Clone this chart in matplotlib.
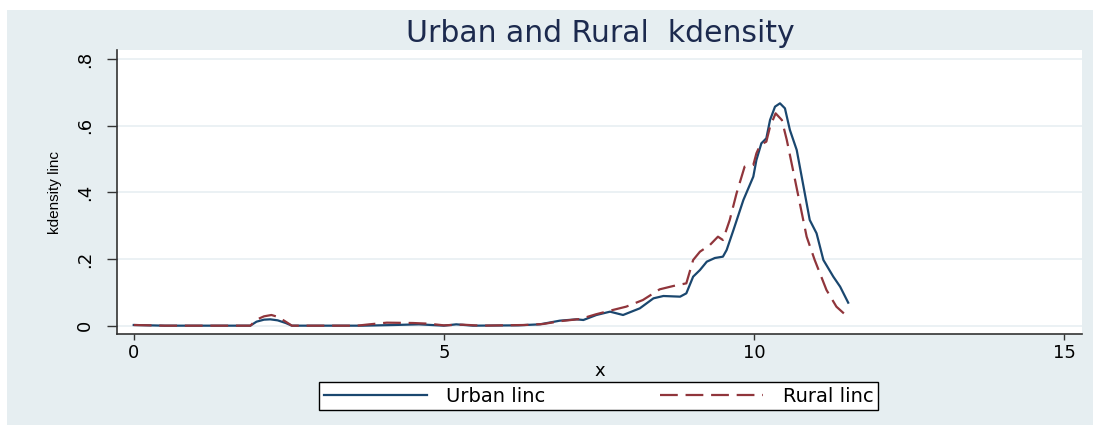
import matplotlib.pyplot as plt
from matplotlib.patches import Rectangle

# kdensity curves
urban_x = [0.0, 0.5, 1.88, 1.98, 2.1, 2.2, 2.32, 2.45, 2.55, 3.7, 4.2, 4.6, 5.0, 5.2, 5.47,
           6.2, 6.55, 6.87, 7.14, 7.25, 7.46, 7.68, 7.89, 8.16, 8.38, 8.54, 8.81, 8.91, 9.02,
           9.13, 9.24, 9.37, 9.5, 9.56, 9.67, 9.83, 9.99, 10.04, 10.12, 10.2, 10.26, 10.34,
           10.42, 10.5, 10.58, 10.69, 10.8, 10.9, 11.01, 11.12, 11.28, 11.39, 11.52]
urban_y = [0.002, 0.0, 0.0, 0.012, 0.018, 0.019, 0.016, 0.008, 0.0, 0.0, 0.002, 0.004, 0.0,
           0.004, 0.0, 0.001, 0.004, 0.015, 0.019, 0.017, 0.032, 0.042, 0.032, 0.052, 0.082,
           0.089, 0.087, 0.097, 0.147, 0.167, 0.192, 0.203, 0.207, 0.227, 0.287, 0.377, 0.447,
           0.497, 0.547, 0.562, 0.617, 0.657, 0.667, 0.652, 0.587, 0.527, 0.417, 0.317, 0.277,
           0.197, 0.147, 0.117, 0.069]

rural_x = [0.0, 0.5, 1.88, 1.98, 2.1, 2.22, 2.33, 2.45, 2.55, 3.6, 3.8, 4.08, 4.5, 4.75, 5.0,
           5.3, 5.6, 6.3, 6.6, 6.9, 7.2, 7.45, 7.68, 7.94, 8.21, 8.48, 8.7, 8.91, 9.02, 9.13,
           9.29, 9.42, 9.5, 9.61, 9.72, 9.85, 9.99, 10.04, 10.1, 10.2, 10.26, 10.35, 10.45,
           10.53, 10.63, 10.74, 10.85, 10.98, 11.17, 11.33, 11.52]
rural_y = [0.002, 0.0, 0.0, 0.018, 0.028, 0.032, 0.026, 0.012, 0.0, 0.0, 0.004, 0.009, 0.008,
           0.006, 0.001, 0.003, 0.0, 0.002, 0.005, 0.014, 0.02, 0.034, 0.045, 0.057, 0.077,
           0.109, 0.119, 0.127, 0.197, 0.222, 0.242, 0.267, 0.257, 0.317, 0.397, 0.477, 0.482,
           0.517, 0.542, 0.552, 0.597, 0.637, 0.617, 0.557, 0.467, 0.367, 0.267, 0.197, 0.107,
           0.057, 0.025]

x_ticks = [0, 5, 10, 15]
y_ticks = [0, 0.2, 0.4, 0.6, 0.8]
y_tick_labels = ["0", ".2", ".4", ".6", ".8"]

W, H = 1097, 426
BG = "#e6eef1"
NAVY = "#1a476f"
MAROON = "#90353b"

plt.rcParams['font.family'] = ['DejaVu Sans']

fig = plt.figure(figsize=(W / 100, H / 100), dpi=100, facecolor="white")
fig.add_artist(Rectangle((7 / W, 1 / H), 1086 / W, 415 / H, transform=fig.transFigure,
                         facecolor=BG, edgecolor="none", zorder=0))

ax = fig.add_axes([117 / W, (H - 334) / H, (1082 - 117) / W, (334 - 50) / H])
ax.set_facecolor("white")

ax.plot(urban_x, urban_y, color=NAVY, lw=1.6, label="Urban linc", zorder=3)
ax.plot(rural_x, rural_y, color=MAROON, lw=1.6, dashes=(8, 3.5), label="Rural linc", zorder=3)

ax.set_xlim(-0.27, 15.29)
ax.set_ylim(-0.025, 0.827)
ax.set_xticks(x_ticks)
ax.set_yticks(y_ticks)
ax.set_yticklabels(y_tick_labels, rotation=90, va="center")
ax.tick_params(direction="out", width=1, color="#333333", labelsize=13)
ax.tick_params(axis="x", length=4, pad=3)
ax.tick_params(axis="y", length=7.5, pad=9)
ax.grid(axis="y", color="#e8eff2", lw=1.2)
ax.set_axisbelow(True)
for s in ["top", "right"]:
    ax.spines[s].set_visible(False)
for s in ["left", "bottom"]:
    ax.spines[s].set_color("#333333")
    ax.spines[s].set_linewidth(1.2)

ax.set_xlabel("x", fontsize=13, labelpad=0)
ax.set_ylabel("kdensity linc", fontsize=11, labelpad=10,
              family=['Liberation Sans Narrow', 'Liberation Sans', 'DejaVu Sans'])
fig.text(600 / W, 1 - 34 / H, "Urban and Rural  kdensity", ha="center", va="center",
         fontsize=21.5, color="#1c2a4e")

fig.legend(loc="center", bbox_to_anchor=(319 / W, (H - 410) / H, 559 / W, 28 / H),
           mode="expand", ncol=2, fontsize=14, handlelength=5.3, borderaxespad=0,
           fancybox=False, edgecolor="black", framealpha=1, facecolor="white",
           borderpad=0.25, handletextpad=1.0)

fig.savefig("out.png", dpi=100, facecolor="white")
